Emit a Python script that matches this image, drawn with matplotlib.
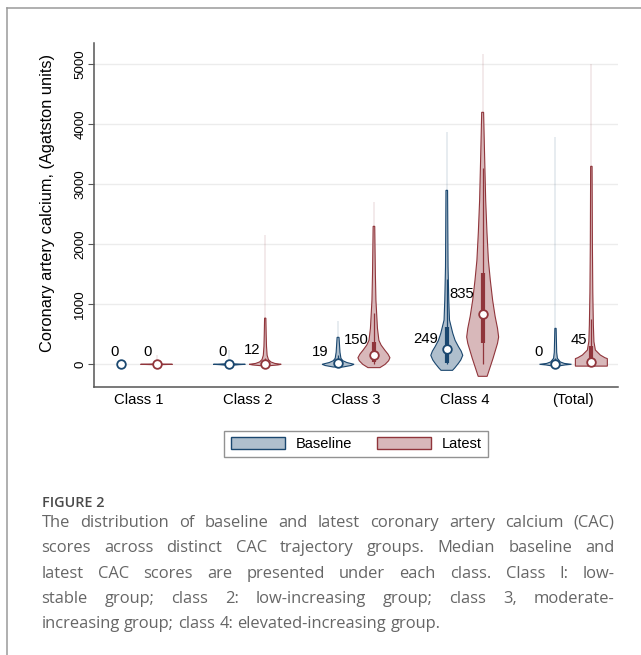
import matplotlib
matplotlib.use("Agg")
import matplotlib.pyplot as plt
import numpy as np
from matplotlib.patches import Patch
from matplotlib.lines import Line2D

# ---------------- data ----------------
groups = ["Class 1", "Class 2", "Class 3", "Class 4", "(Total)"]
series = ["Baseline", "Latest"]

median_base = [0, 0, 19, 249, 0]
median_latest = [0, 12, 150, 835, 45]
q1_base = [0, 0, 3, 30, 0]
q3_base = [0, 0, 60, 620, 40]
q1_latest = [0, 0, 40, 350, 0]
q3_latest = [0, 40, 370, 1525, 300]
whisk_hi_base = [0, 0, 150, 1430, 100]
whisk_hi_latest = [0, 100, 860, 3275, 750]
max_base = [0, 240, 720, 3877, 3790]
max_latest = [150, 2150, 2705, 5180, 5000]

# density profiles (value, relative width)
c1_base_v, c1_base_d = [], []
c1_latest_v = [-8, 0, 8, 30]
c1_latest_d = [0.0, 1.0, 0.05, 0.02]
c2_base_v = [-20, -6, 0, 8, 20, 50]
c2_base_d = [0.0, 0.6, 1.0, 0.3, 0.06, 0.03]
c2_latest_v = [-25, -10, 0, 15, 40, 80, 150, 300, 500, 770]
c2_latest_d = [0.2, 0.8, 1.0, 0.6, 0.35, 0.2, 0.12, 0.08, 0.06, 0.04]
c3_base_v = [-45, -20, 0, 30, 60, 100, 200, 450]
c3_base_d = [0.3, 0.8, 1.0, 0.55, 0.3, 0.18, 0.12, 0.06]
c3_latest_v = [-55, 0, 60, 110, 170, 233, 320, 400, 600, 1067, 1500, 2300]
c3_latest_d = [0.375, 0.7, 0.92, 1.0, 0.88, 0.69, 0.45, 0.31, 0.22, 0.125, 0.09, 0.05]
c4_base_v = [-100, -60, 17, 72, 150, 220, 295, 400, 517, 738, 1072, 1620, 2900]
c4_base_d = [0.36, 0.5, 0.73, 0.875, 1.0, 0.9, 0.73, 0.52, 0.375, 0.17, 0.125, 0.08, 0.05]
c4_latest_v = [-200, 100, 350, 455, 600, 800, 1067, 1400, 1733, 2200, 2733, 3500, 4200]
c4_latest_d = [0.28, 0.65, 0.93, 1.0, 0.93, 0.78, 0.625, 0.48, 0.36, 0.27, 0.19, 0.12, 0.06]
tot_base_v = [-30, -10, 0, 15, 40, 100, 200, 600]
tot_base_d = [0.15, 0.6, 1.0, 0.55, 0.3, 0.12, 0.075, 0.04]
tot_latest_v = [-30, 95, 110, 155, 238, 377, 655, 1200, 2000, 3300]
tot_latest_d = [1.0, 1.0, 0.85, 0.56, 0.25, 0.16, 0.125, 0.09, 0.065, 0.045]

profiles_base = [(c1_base_v, c1_base_d), (c2_base_v, c2_base_d), (c3_base_v, c3_base_d),
                 (c4_base_v, c4_base_d), (tot_base_v, tot_base_d)]
profiles_latest = [(c1_latest_v, c1_latest_d), (c2_latest_v, c2_latest_d),
                   (c3_latest_v, c3_latest_d), (c4_latest_v, c4_latest_d),
                   (tot_latest_v, tot_latest_d)]

# label layout (data-unit anchors)
lab_dx_base = [-0.058, -0.064, -0.165, -0.193, -0.158]
lab_dx_latest = [-0.079, -0.121, -0.161, -0.193, -0.117]
lab_y_base = [138, 138, 138, 360, 138]
lab_y_latest = [138, 172, 338, 1110, 338]

caption_title = "FIGURE 2"
caption_lines = [
    "The distribution of baseline and latest coronary artery calcium (CAC)",
    "scores across distinct CAC trajectory groups. Median baseline and",
    "latest CAC scores are presented under each class. Class I: low-",
    "stable group; class 2: low-increasing group; class 3, moderate-",
    "increasing group; class 4: elevated-increasing group.",
]

# ---------------- style ----------------
NAVY = "#1a476f"
MAROON = "#90353b"
NAVY_F = "#afbfcd"
MAROON_F = "#d8b8ba"
FONT = ["Liberation Sans", "DejaVu Sans"]
plt.rcParams["font.family"] = FONT

W = 0.147
OFF = 0.165
FW, FH = 641, 655

fig = plt.figure(figsize=(FW / 100, FH / 100), dpi=100)
ax = fig.add_axes([94 / FW, 1 - 387 / FH, (618 - 94) / FW, (387 - 43) / FH])
ax.set_xlim(0.59, 5.41)
ax.set_ylim(-378, 5355)


def draw_violin(x0, prof, med, q1, q3, whi, vmax, ec, fc):
    v, d = prof
    if len(v):
        v = np.asarray(v, float)
        hw = np.asarray(d, float) * W
        xs = np.concatenate([x0 - hw, (x0 + hw)[::-1]])
        ys = np.concatenate([v, v[::-1]])
        ax.fill(xs, ys, facecolor=fc, edgecolor=ec, lw=0.8, zorder=3)
        if vmax > v[-1]:
            ax.plot([x0, x0], [v[-1], vmax], color=ec, alpha=0.12, lw=1.2,
                    zorder=2, solid_capstyle="butt")
    if whi > 0:
        ax.plot([x0, x0], [0, whi], color=ec, lw=0.9, zorder=4, solid_capstyle="butt")
    if q3 > q1:
        ax.plot([x0, x0], [q1, q3], color=ec, lw=3.0, zorder=4, solid_capstyle="butt")
    ax.plot([x0], [med], marker="o", ms=6.2, mfc="white", mec=ec, mew=1.3, zorder=5)


pos = np.arange(1, len(groups) + 1)
for i, p in enumerate(pos):
    xb, xl = p - OFF, p + OFF
    draw_violin(xb, profiles_base[i], median_base[i], q1_base[i], q3_base[i],
                whisk_hi_base[i], max_base[i], NAVY, NAVY_F)
    draw_violin(xl, profiles_latest[i], median_latest[i], q1_latest[i], q3_latest[i],
                whisk_hi_latest[i], max_latest[i], MAROON, MAROON_F)
    ax.text(xb + lab_dx_base[i], lab_y_base[i], str(median_base[i]), ha="center",
            va="baseline", fontsize=10.7, color="black", zorder=6)
    ax.text(xl + lab_dx_latest[i], lab_y_latest[i], str(median_latest[i]), ha="center",
            va="baseline", fontsize=10.7, color="black", zorder=6)

ax.set_xticks(pos)
ax.set_xticklabels(groups, fontsize=10.7)
ax.tick_params(axis="x", length=0, pad=4)
yt = [0, 1000, 2000, 3000, 4000, 5000]
ax.set_yticks(yt)
ax.set_yticklabels([str(t) for t in yt], rotation=90, va="center", fontsize=9.6)
ax.tick_params(axis="y", length=4, width=0.8, color="#555555", pad=1.5)
ax.grid(axis="y", color="#ececec", lw=1.0, zorder=0)
ax.set_axisbelow(True)
for s in ["top", "right"]:
    ax.spines[s].set_visible(False)
for s in ["left", "bottom"]:
    ax.spines[s].set_color("#555555")
    ax.spines[s].set_linewidth(1.1)
ax.set_ylabel("Coronary artery calcium, (Agatston units)", fontsize=11.8)
ax.yaxis.set_label_coords(48 / FW, 1 - 203 / FH, transform=fig.transFigure)
ax.yaxis.label.set_verticalalignment("center")

handles = [Patch(facecolor=NAVY_F, edgecolor=NAVY, lw=1.0),
           Patch(facecolor=MAROON_F, edgecolor=MAROON, lw=1.0)]
leg = fig.legend(handles, series, loc="center", bbox_to_anchor=(356 / FW, 1 - 444 / FH),
                 ncol=2, frameon=True, fancybox=False, fontsize=10.5,
                 handlelength=3.75, handleheight=0.95, handletextpad=0.7,
                 columnspacing=1.7, borderpad=0.42)
leg.get_frame().set_edgecolor("#777777")
leg.get_frame().set_linewidth(1.0)

# outer frame lines
fig.add_artist(Line2D([7.3 / FW, 7.3 / FW], [0, 1 - 8.3 / FH], color="#9a9a9a", lw=1.1))
fig.add_artist(Line2D([7.3 / FW, 1.0], [1 - 8.3 / FH, 1 - 8.3 / FH], color="#9a9a9a", lw=1.1))

# caption
CAP_FONT = ["Open Sans", "DejaVu Sans"]
fig.text(41.5 / FW, 1 - 507 / FH, caption_title, fontsize=10.4, color="#4a4a4a",
         family=CAP_FONT, weight="semibold", va="baseline", ha="left")

renderer = fig.canvas.get_renderer()
L, R = 41.5, 614.5
CS = 11.9
for k, line in enumerate(caption_lines):
    yb = 1 - (526.7 + 25.4 * k) / FH
    words = line.split(" ")
    texts = [fig.text(0, yb, w, fontsize=CS, color="#666666", family=CAP_FONT,
                      weight="normal", va="baseline", ha="left") for w in words]
    widths = [t.get_window_extent(renderer).width for t in texts]
    sp = fig.text(0, 0, "a a", fontsize=CS, family=CAP_FONT)
    sp2 = fig.text(0, 0, "aa", fontsize=CS, family=CAP_FONT)
    natural_gap = sp.get_window_extent(renderer).width - sp2.get_window_extent(renderer).width
    sp.remove(); sp2.remove()
    if k < len(caption_lines) - 1:
        gap = (R - L - sum(widths)) / (len(words) - 1)
    else:
        gap = natural_gap
    x = L
    for t, w in zip(texts, widths):
        t.set_x(x / FW)
        x += w + gap

fig.savefig("out.png", dpi=100)
